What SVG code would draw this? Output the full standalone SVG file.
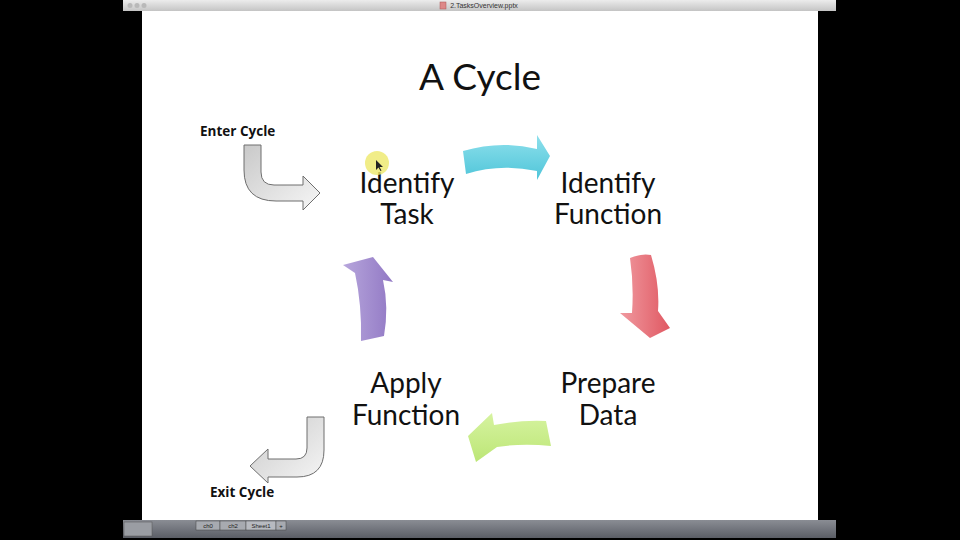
<svg xmlns="http://www.w3.org/2000/svg" width="960" height="540" viewBox="0 0 960 540">
<defs>
<style>
.lbl{font-family:Lato,"Open Sans","Liberation Sans",sans-serif;font-size:28px;fill:#111;text-anchor:middle}
.side{font-family:"Open Sans","Liberation Sans",sans-serif;font-size:13.5px;font-weight:bold;fill:#111}
.gray{fill:url(#gGray);stroke:#6e6e6e;stroke-width:1}
.tab{font-family:"Liberation Sans",sans-serif;font-size:6px;fill:#222;text-anchor:middle}
</style>
<linearGradient id="gTitle" x1="0" y1="0" x2="0" y2="1"><stop offset="0" stop-color="#ececec"/><stop offset="1" stop-color="#c4c4c4"/></linearGradient>
<linearGradient id="gBottom" x1="0" y1="0" x2="0" y2="1"><stop offset="0" stop-color="#8a8d94"/><stop offset="1" stop-color="#5b5e66"/></linearGradient>
<linearGradient id="gGray" x1="0" y1="0" x2="1" y2="1"><stop offset="0" stop-color="#c9c9c9"/><stop offset="1" stop-color="#f6f6f6"/></linearGradient>
<linearGradient id="gCyan" x1="0" y1="0" x2="0" y2="1"><stop offset="0" stop-color="#8ee0ec"/><stop offset="1" stop-color="#4fc5d9"/></linearGradient>
<linearGradient id="gRed" x1="0" y1="0" x2="1" y2="0"><stop offset="0" stop-color="#f09aa0"/><stop offset="1" stop-color="#e05862"/></linearGradient>
<linearGradient id="gGreen" x1="0" y1="0" x2="0" y2="1"><stop offset="0" stop-color="#d6f3a0"/><stop offset="1" stop-color="#bce676"/></linearGradient>
<linearGradient id="gPurple" x1="0" y1="0" x2="1" y2="0"><stop offset="0" stop-color="#b7a6dc"/><stop offset="1" stop-color="#9178c4"/></linearGradient>
</defs>
<rect width="960" height="540" fill="#000"/>
<g id="window">
<rect x="123" y="0" width="713" height="11" fill="url(#gTitle)"/>
<circle cx="130" cy="5.5" r="2.5" fill="#b9b9b9"/>
<circle cx="137" cy="5.5" r="2.5" fill="#b9b9b9"/>
<circle cx="144" cy="5.5" r="2.5" fill="#b9b9b9"/>
<rect x="440" y="2" width="6" height="7" fill="#d88" stroke="#a55" stroke-width="0.5"/>
<text x="484" y="8" font-family="Liberation Sans,sans-serif" font-size="7" fill="#333" text-anchor="middle">2.TasksOverview.pptx</text>
<rect x="142" y="11" width="676" height="509" fill="#fff"/>
<rect x="123" y="520" width="713" height="18" fill="url(#gBottom)"/>
<rect x="124" y="522" width="28" height="14" fill="#9a9da3" stroke="#555" stroke-width="0.5"/>
<rect x="196" y="521" width="24" height="9" fill="#a7aab0" stroke="#444" stroke-width="0.5"/>
<text class="tab" x="208" y="528">ch0</text>
<rect x="220" y="521" width="26" height="9" fill="#a7aab0" stroke="#444" stroke-width="0.5"/>
<text class="tab" x="233" y="528">ch2</text>
<rect x="246" y="521" width="30" height="9" fill="#b7bac0" stroke="#444" stroke-width="0.5"/>
<text class="tab" x="261" y="528">Sheet1</text>
<rect x="276" y="521" width="10" height="9" fill="#a7aab0" stroke="#444" stroke-width="0.5"/>
<text class="tab" x="281" y="528">+</text>
</g>
<text x="480" y="90" font-family="Lato,'Open Sans','Liberation Sans',sans-serif" font-size="37" fill="#111" text-anchor="middle">A Cycle</text>
<g id="connectors">
<path id="enter-arrow" class="gray" d="M244,145 L261,145 L261,172 Q261,185 274,185 L303,185 L303,176 L320,193 L303,210 L303,201 L276,201 Q244,201 244,170 Z"/>
<path id="exit-arrow" class="gray" d="M307,417 L324,417 L324,450 Q324,477 297,477 L268,477 L268,483 L250,466 L268,449 L268,459 L296,459 Q307,459 307,448 Z"/>
<path id="cyan-arrow" fill="url(#gCyan)" d="M463,151 Q500,140 537,149 L537,135 L550,156 L537,180 L537,171 Q500,163 466,174 Z"/>
<path id="red-arrow" fill="url(#gRed)" d="M630,258 Q642,253 651,255 Q660,285 658,311 L670,328 L650,338 L620,313 L632,313 Q634,285 630,258 Z"/>
<path id="green-arrow" fill="url(#gGreen)" d="M546,421 Q518,420 494,425 L492,413 L468,436 L476,462 L497,447 Q522,443 551,446 Z"/>
<path id="purple-arrow" fill="url(#gPurple)" d="M361,341 Q362,305 355,273 L343,265 L373,257 L393,282 L383,280 Q389,307 384,336 Z"/>
</g>
<g id="enter-cycle"><text class="side" x="200" y="136">Enter Cycle</text></g>
<g id="exit-cycle"><text class="side" x="210" y="497">Exit Cycle</text></g>
<g id="identify-task">
<text class="lbl" x="407" y="193">Identify</text>
<text class="lbl" x="407" y="224">Task</text>
</g>
<g id="identify-function">
<text class="lbl" x="608" y="193">Identify</text>
<text class="lbl" x="608" y="224">Function</text>
</g>
<g id="prepare-data">
<text class="lbl" x="608" y="393">Prepare</text>
<text class="lbl" x="608" y="425">Data</text>
</g>
<g id="apply-function">
<text class="lbl" x="406" y="393">Apply</text>
<text class="lbl" x="406" y="425">Function</text>
</g>
<g id="cursor">
<circle cx="377" cy="163" r="12" fill="#eee86a" opacity="0.8"/>
<path d="M376,160 L376,170 L378.5,167.5 L380.5,171 L381.5,170.5 L379.5,167 L383,167 Z" fill="#222"/>
</g>
</svg>
